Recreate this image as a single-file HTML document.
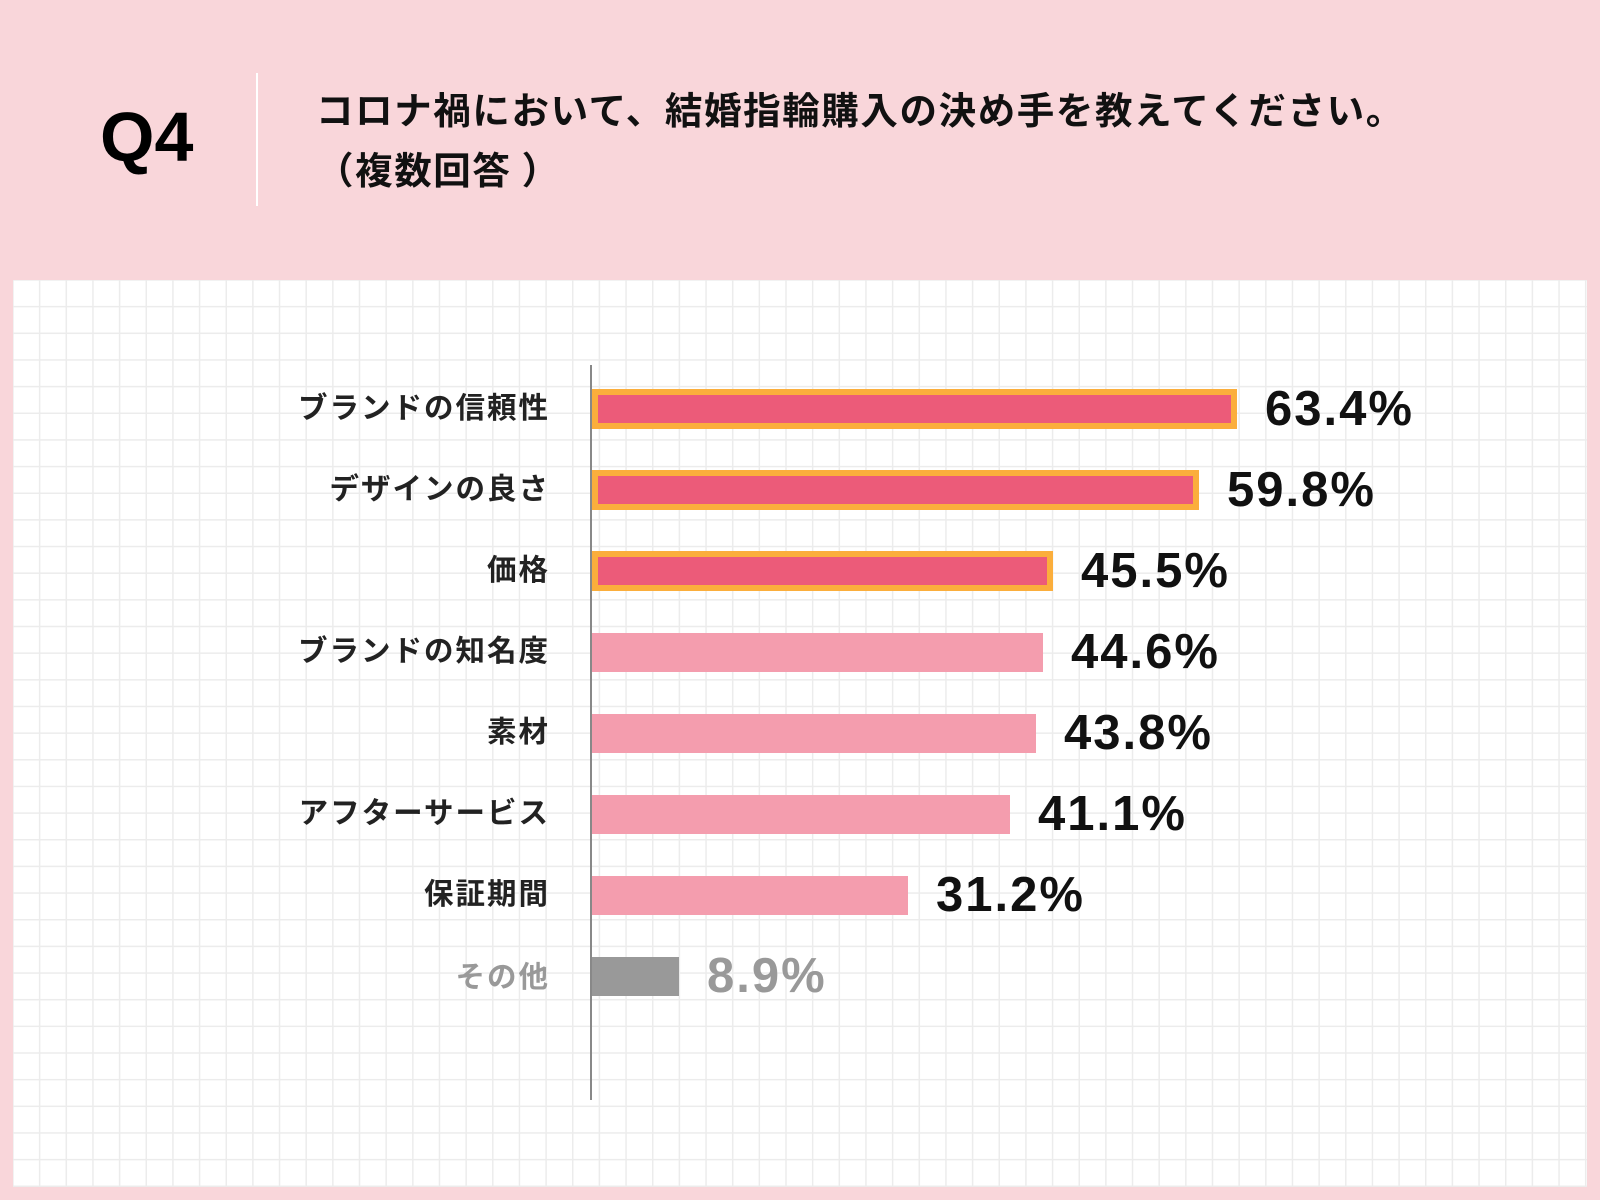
<!DOCTYPE html>
<html><head><meta charset="utf-8"><style>
body{margin:0;width:1600px;height:1200px;background:#f9d6da;position:relative;overflow:hidden;font-family:"Liberation Sans","Noto Sans CJK JP",sans-serif;}
.q{position:absolute;left:100px;top:97px;font-size:70px;font-weight:bold;color:#000;line-height:80px;}
.div{position:absolute;left:256px;top:73px;width:1.5px;height:133px;background:#fff;}
.t{position:absolute;left:316px;top:78px;font-size:37.5px;letter-spacing:1.6px;font-weight:bold;color:#111;line-height:60px;font-family:"Noto Sans CJK JP",sans-serif;}
.panel{position:absolute;left:13px;top:280px;width:1574px;height:907px;background-color:#fff;
background-image:linear-gradient(to right,#ececec 1.5px,transparent 1.5px),linear-gradient(to bottom,#ececec 1.5px,transparent 1.5px);
background-size:26.67px 26.67px;background-position:25.9px 25.9px;}
.axis{position:absolute;left:590px;top:365px;width:2px;height:735px;background:#888;}
.lab{position:absolute;right:1050px;font-size:29.5px;letter-spacing:2px;font-weight:bold;color:#222;font-family:"Noto Sans CJK JP",sans-serif;line-height:40px;white-space:nowrap;}
.bar{position:absolute;left:592px;box-sizing:border-box;}
.hl{background:#ec5b79;border:6px solid #fbae3c;height:40px;}
.pl{background:#f49dae;height:39px;}
.gr{background:#999;height:39px;}
.val{position:absolute;font-size:49px;letter-spacing:2px;font-weight:bold;color:#111;line-height:50px;}
</style></head><body>
<div class="q">Q4</div>
<div class="div"></div>
<div class="t">コロナ禍において、結婚指輪購入の決め手を教えてください。<br>（複数回答 ）</div>
<div class="panel"></div>
<div class="axis"></div>

<div class="lab" style="top:386px">ブランドの信頼性</div>
<div class="bar hl" style="top:389px;width:645px"></div>
<div class="val" style="left:1265px;top:384px">63.4%</div>

<div class="lab" style="top:467px">デザインの良さ</div>
<div class="bar hl" style="top:470px;width:607px"></div>
<div class="val" style="left:1227px;top:465px">59.8%</div>

<div class="lab" style="top:548px">価格</div>
<div class="bar hl" style="top:551px;width:461px"></div>
<div class="val" style="left:1081px;top:546px">45.5%</div>

<div class="lab" style="top:629px">ブランドの知名度</div>
<div class="bar pl" style="top:633px;width:451px"></div>
<div class="val" style="left:1071px;top:627px">44.6%</div>

<div class="lab" style="top:710px">素材</div>
<div class="bar pl" style="top:714px;width:444px"></div>
<div class="val" style="left:1064px;top:708px">43.8%</div>

<div class="lab" style="top:791px">アフターサービス</div>
<div class="bar pl" style="top:795px;width:418px"></div>
<div class="val" style="left:1038px;top:789px">41.1%</div>

<div class="lab" style="top:872px">保証期間</div>
<div class="bar pl" style="top:876px;width:316px"></div>
<div class="val" style="left:936px;top:870px">31.2%</div>

<div class="lab" style="top:955px;color:#999">その他</div>
<div class="bar gr" style="top:957px;width:87px"></div>
<div class="val" style="left:707px;top:951px;color:#999">8.9%</div>
</body></html>
